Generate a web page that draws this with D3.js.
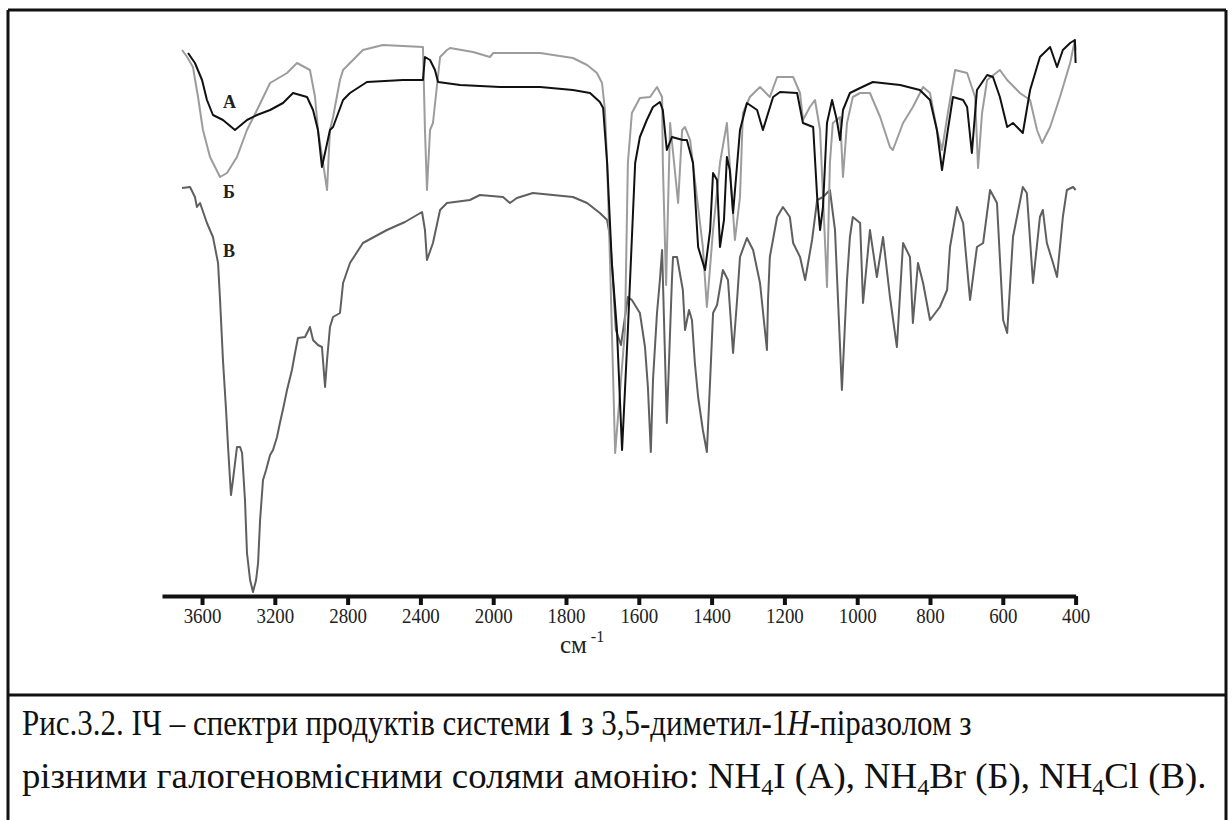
<!DOCTYPE html>
<html>
<head>
<meta charset="utf-8">
<script src="https://cdnjs.cloudflare.com/ajax/libs/d3/7.8.5/d3.min.js"></script>
<style>
body { margin: 0; background: #fff; }
svg text { font-family: "Liberation Serif", "Times New Roman", serif; fill: #111; }
</style>
</head>
<body>
<div id="p"></div>
<script>
// tick labels of the wavenumber axis (the scale changes at 2000 cm-1)
var tickValues = [3600, 3200, 2800, 2400, 2000, 1800, 1600, 1400, 1200, 1000, 800, 600, 400];
var seriesNames = ["А", "Б", "В"];
// where each curve name sits: wavenumber and transmittance
var labelWave = [3485, 3485, 3485];
var labelTrans = [97.6, 79.6, 67.8];

// A - NH4I (black)
var waveA = [3677, 3639, 3600, 3573, 3540, 3485, 3419, 3353, 3298, 3226, 3155, 3100, 3023, 2990, 2963, 2941, 2897, 2880,
  2825, 2787, 2694, 2496, 2386, 2375, 2347, 2320, 2303, 2182, 1981, 1871, 1781, 1734, 1707, 1698, 1687, 1674, 1660, 1646,
  1630, 1610, 1597, 1578, 1561, 1542, 1534, 1523, 1509, 1479, 1468, 1451, 1437, 1418, 1404, 1396, 1385, 1377, 1366, 1358,
  1350, 1341, 1322, 1303, 1275, 1259, 1231, 1212, 1165, 1149, 1121, 1110, 1102, 1094, 1083, 1069, 1056, 1047, 1039, 1020,
  992, 957, 882, 828, 800, 781, 767, 751, 737, 709, 698, 685, 671, 643, 627, 608, 588, 572, 553, 545, 525, 498, 470, 451,
  435, 415, 402, 400];
var transA = [108.6, 106.6, 103.2, 99.2, 96.2, 95.2, 93.2, 95.2, 96.2, 97.2, 98.6, 100.6, 99.8, 97.2, 93.2, 85.8, 93.2, 93.8,
  99.2, 100.6, 102.8, 103.2, 103.2, 107.8, 107.2, 105.2, 102.8, 102.2, 101.8, 101.8, 101.2, 100.6, 98.8, 97.6, 86.6, 66.6, 53.2, 29.2,
  53.2, 86.6, 91.8, 95.2, 97.8, 98.8, 97.2, 89.2, 91.8, 91.2, 91.2, 86.6, 69.8, 65.2, 73.2, 84.6, 83.2, 69.8, 75.2, 87.8,
  85.2, 76.6, 93.2, 98.6, 97.2, 93.2, 99.8, 100.8, 100.6, 94.6, 93.8, 79.8, 73.2, 77.8, 94.6, 99.2, 95.2, 91.2, 97.2, 100.6,
  101.6, 102.8, 102.2, 101.2, 99.2, 93.2, 85.2, 93.2, 99.8, 99.2, 97.8, 88.6, 101.2, 104.2, 103.8, 99.8, 93.8, 94.6, 93.2, 92.6, 101.2, 107.8, 109.8, 105.8,
  109.2, 110.6, 111.2, 106.6];

// Б - NH4Br (light grey)
var waveB = [3710, 3682, 3650, 3622, 3595, 3556, 3501, 3463, 3408, 3353, 3298, 3226, 3133, 3078, 3007, 2979, 2963, 2935,
  2913, 2897, 2880, 2842, 2825, 2716, 2606, 2386, 2375, 2364, 2347, 2331, 2292, 2254, 2237, 2111, 2018, 2000, 1871, 1781,
  1742, 1715, 1701, 1693, 1687, 1679, 1674, 1665, 1638, 1630, 1619, 1597, 1569, 1550, 1536, 1534, 1525, 1514, 1492, 1481,
  1473, 1459, 1424, 1413, 1396, 1377, 1358, 1341, 1336, 1322, 1314, 1295, 1267, 1240, 1220, 1176, 1157, 1149, 1130, 1116,
  1102, 1083, 1075, 1067, 1047, 1039, 1028, 1012, 992, 965, 937, 910, 902, 874, 847, 819, 800, 781, 767, 751, 731, 698,
  676, 668, 657, 643, 608, 588, 553, 525, 506, 492, 470, 443, 415, 402, 400];
var transB = [109.2, 107.8, 105.8, 99.8, 93.2, 87.8, 83.8, 84.6, 87.8, 93.2, 97.2, 102.6, 104.6, 106.6, 105.2, 99.8, 93.2, 86.6,
  81.2, 93.2, 95.8, 103.2, 105.2, 109.2, 110.2, 109.8, 93.2, 81.2, 93.2, 94.6, 107.8, 109.2, 109.6, 108.8, 107.8, 108.6, 108.6, 107.6,
  106.2, 104.6, 102.6, 97.2, 86.6, 66.6, 53.2, 28.6, 53.2, 86.6, 96.6, 99.6, 99.8, 101.8, 99.8, 86.6, 62.2, 94.6, 78.6, 93.2,
  93.8, 91.2, 69.8, 57.8, 73.2, 86.6, 94.6, 76.6, 71.2, 79.8, 96.6, 99.8, 101.8, 99.8, 103.8, 103.8, 100.6, 95.2, 97.8, 99.2,
  93.2, 61.8, 86.6, 94.6, 95.8, 83.8, 94.6, 99.8, 100.6, 100.6, 95.8, 89.8, 89.2, 94.6, 97.8, 101.8, 100.6, 93.2, 89.2, 96.6, 105.2, 104.6,
  99.8, 85.6, 96.6, 103.2, 105.2, 103.2, 100.6, 99.2, 93.2, 90.6, 93.8, 99.8, 106.6, 111.2, 109.2];

// В - NH4Cl (dark grey)
var waveC = [3710, 3666, 3639, 3628, 3611, 3573, 3540, 3512, 3501, 3485, 3468, 3457, 3441, 3430, 3408, 3391, 3380, 3364,
  3353, 3336, 3320, 3303, 3292, 3281, 3265, 3248, 3226, 3210, 3188, 3172, 3150, 3133, 3106, 3089, 3073, 3034, 3007, 2990,
  2963, 2941, 2924, 2913, 2897, 2880, 2842, 2825, 2787, 2716, 2584, 2485, 2391, 2375, 2364, 2331, 2292, 2254, 2128, 2073,
  1973, 1954, 1935, 1891, 1781, 1742, 1707, 1687, 1679, 1671, 1663, 1649, 1630, 1619, 1597, 1583, 1575, 1567, 1561, 1550,
  1542, 1536, 1523, 1509, 1506, 1495, 1479, 1473, 1462, 1454, 1446, 1437, 1424, 1413, 1404, 1396, 1385, 1369, 1355, 1341,
  1330, 1322, 1303, 1286, 1267, 1248, 1245, 1240, 1220, 1204, 1185, 1176, 1157, 1143, 1124, 1110, 1094, 1075, 1061, 1042,
  1028, 1020, 1012, 992, 984, 965, 946, 929, 910, 891, 874, 855, 847, 833, 819, 800, 773, 753, 745, 726, 709, 690, 671,
  654, 635, 616, 599, 588, 572, 545, 534, 517, 498, 490, 479, 462, 451, 435, 424, 407, 400];
var transC = [81.6, 81.8, 79.8, 77.8, 78.6, 74.6, 71.8, 66.6, 59.2, 47.2, 37.2, 29.8, 20.2, 23.2, 29.8, 29.8, 28.6, 19.2,
  8.6, 3.2, 0.8, 3.2, 6.6, 15.2, 23.2, 25.2, 28.2, 29.2, 31.8, 34.6, 38.2, 41.2, 45.2, 48.6, 51.6, 51.8, 53.8, 51.2,
  50.2, 49.8, 41.8, 47.2, 53.8, 55.8, 56.6, 62.6, 66.6, 70.6, 73.2, 74.8, 76.8, 73.2, 67.2, 70.6, 77.2, 78.6, 79.2, 80.2,
  79.8, 78.6, 79.6, 80.6, 79.8, 78.6, 76.6, 75.2, 71.8, 63.2, 53.2, 50.2, 59.8, 59.2, 56.6, 49.8, 41.8, 28.8, 43.2, 56.6,
  63.2, 69.2, 34.6, 63.2, 67.8, 67.8, 61.2, 53.2, 57.2, 55.2, 46.6, 39.8, 33.2, 28.8, 43.2, 56.6, 58.2, 65.2, 63.2, 48.6,
  59.2, 67.8, 71.6, 69.2, 62.6, 49.2, 59.2, 67.8, 75.8, 77.8, 75.8, 70.6, 67.8, 63.2, 71.2, 79.2, 79.8, 81.2, 73.2, 41.2,
  63.2, 71.8, 75.8, 74.6, 58.6, 73.2, 63.8, 71.8, 59.8, 49.8, 70.6, 67.8, 54.6, 66.6, 62.6, 55.2, 57.8, 61.2, 69.8, 77.8, 74.6, 59.2, 69.8,
  70.6, 81.2, 78.6, 55.2, 52.6, 71.8, 81.8, 80.6, 62.6, 75.8, 77.2, 70.6, 66.6, 63.8, 75.8, 81.2, 81.8, 81.2];

var serif = "'Liberation Serif', 'Times New Roman', serif";

var svg = d3.select("#p").append("svg")
          .attr("width", 1232)
          .attr("height", 820);

// frame of the figure and the line above the caption
var frame = svg.append("g").attr("stroke", "#111").attr("stroke-width", 3);
frame.append("line").attr("x1", 8).attr("x2", 1226).attr("y1", 10).attr("y2", 10);
frame.append("line").attr("x1", 8).attr("x2", 8).attr("y1", 10).attr("y2", 820);
frame.append("line").attr("x1", 1226).attr("x2", 1226).attr("y1", 10).attr("y2", 820);
frame.append("line").attr("x1", 8).attr("x2", 1226).attr("y1", 695).attr("y2", 695);

// polylinear x: equal spacing for 400 cm-1 above 2000 and 200 cm-1 below
var x = d3.scaleLinear().domain([3820, 2000, 400]).range([162, 493.2, 1075.6]);
var y = d3.scaleLinear().domain([0, 112]).range([596, 36]);

var line = d3.line()
    .x(function(d) { return x(d[0]); })
    .y(function(d) { return y(d[1]); });

var spectra = [
  { w: waveC, t: transC, color: "#5f5f5f" },
  { w: waveB, t: transB, color: "#9c9c9c" },
  { w: waveA, t: transA, color: "#111111" }
];

svg.selectAll("path.spec")
    .data(spectra)
    .enter().append("path")
    .attr("class", "spec")
    .attr("fill", "none")
    .attr("stroke", function(d) { return d.color; })
    .attr("stroke-width", 2)
    .attr("stroke-linejoin", "round")
    .attr("d", function(d) { return line(d3.zip(d.w, d.t)); });

// curve names
svg.selectAll("text.name")
    .data(seriesNames)
    .enter().append("text")
    .attr("class", "name")
    .attr("x", function(d, i) { return x(labelWave[i]); })
    .attr("y", function(d, i) { return y(labelTrans[i]); })
    .style("font-family", serif)
    .style("font-size", "18px")
    .style("font-weight", "bold")
    .style("fill", "#222")
    .text(function(d) { return d; });

// bottom axis
var axis = d3.axisBottom(x)
    .tickValues(tickValues)
    .tickFormat(d3.format("d"))
    .tickSize(9)
    .tickSizeOuter(0);

var gx = svg.append("g")
    .attr("transform", "translate(0,596)")
    .call(axis);
gx.select(".domain").attr("stroke", "#111").attr("stroke-width", 4);
gx.selectAll(".tick line").attr("stroke", "#111").attr("stroke-width", 4);
gx.selectAll(".tick text")
    .attr("y", 27)
    .attr("dy", 0)
    .attr("transform", "scale(0.9,1)")
    .style("font-family", serif)
    .style("font-size", "21px")
    .style("fill", "#222");

var xl = svg.append("text")
    .attr("x", 582)
    .attr("y", 653)
    .attr("text-anchor", "middle")
    .style("font-family", serif)
    .style("font-size", "25px")
    .style("fill", "#222");
xl.append("tspan").text("см");
xl.append("tspan").attr("dy", -11).style("font-size", "16px").text(" -1");

// caption, each line squeezed or stretched to the width it has in the scan
function fitLine(t, x0, w) {
  var len = t.node().getComputedTextLength();
  var k = w / len;
  t.attr("transform", "translate(" + x0 + ",0) scale(" + k + ",1) translate(" + (-x0) + ",0)");
}

var cap1 = svg.append("text").attr("x", 22).attr("y", 735)
    .style("font-family", serif).style("font-size", "35px");
cap1.append("tspan").text("Рис.3.2. ІЧ – спектри продуктів системи ");
cap1.append("tspan").style("font-weight", "bold").text("1");
cap1.append("tspan").text(" з 3,5-диметил-1");
cap1.append("tspan").style("font-style", "italic").text("H");
cap1.append("tspan").text("-піразолом з");
fitLine(cap1, 22, 950);

var cap2 = svg.append("text").attr("x", 22).attr("y", 788)
    .style("font-family", serif).style("font-size", "35px");
var parts = [["різними галогеновмісними солями амонію: NH", ""], ["4", "sub"], ["I (А), NH", ""], ["4", "sub"],
             ["Br (Б), NH", ""], ["4", "sub"], ["Cl (В).", ""]];
parts.forEach(function(p, i) {
  var t = cap2.append("tspan").text(p[0]);
  if (p[1] == "sub") t.style("font-size", "23px").attr("dy", 7);
  else if (i > 0) t.attr("dy", -7);
});
fitLine(cap2, 22, 1185);
</script>
</body>
</html>
